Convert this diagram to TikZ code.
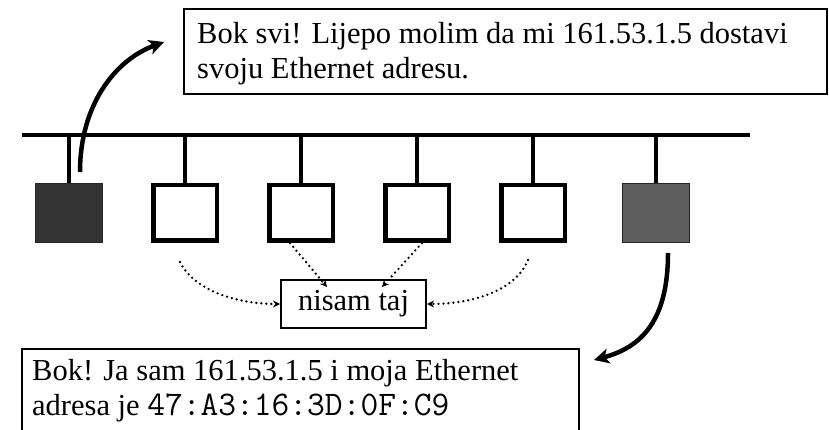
\documentclass[tikz,border=0pt]{standalone}
\usepackage{fontspec}
\setmainfont{Liberation Serif}
\usetikzlibrary{arrows.meta}
\definecolor{hostA}{RGB}{51,51,51}
\definecolor{hostB}{RGB}{94,94,94}
\begin{document}
\begin{tikzpicture}[x=1pt,y=-1pt,
  txt/.style={font=\fontsize{30.5}{35}\selectfont, inner sep=0pt},
  mac/.style={font=\fontsize{34.5}{35}\selectfont\ttfamily},
  frame/.style={draw, line width=2pt, inner sep=0pt, fill=white},
  hostw/.style={draw, line width=4.5pt, fill=white, minimum width=63.5pt, minimum height=55.5pt, inner sep=0pt},
  hostd/.style={draw=black!85, line width=1pt, minimum width=67pt, minimum height=59pt, inner sep=0pt},
  wire/.style={line width=4pt},
  bigarrow/.style={line width=4.5pt, -{Stealth[length=15pt,width=15pt,inset=4pt]}},
  dotarrow/.style={line width=2.6pt, line cap=round, dash pattern=on 0pt off 5pt, -{Stealth[length=7pt,width=7pt]}}
]
\clip (0,0) rectangle (829,430);
\fill[white] (0,0) rectangle (829,430);

% shared Ethernet bus
\coordinate (busL) at (22,135);
\coordinate (busR) at (750,135);
\draw[wire] (busL) -- (busR);

% hosts on the bus
\node[hostd, fill=hostA] (h1) at (69,213) {};
\node[hostw] (h2) at (185,213) {};
\node[hostw] (h3) at (301,213) {};
\node[hostw] (h4) at (417,213) {};
\node[hostw] (h5) at (533,213) {};
\node[hostd, fill=hostB] (h6) at (656,213) {};
\foreach \h in {h1,h2,h3,h4,h5,h6}
  \draw[wire] (\h.north) -- (\h.north |- busL);

% ARP request
\node[frame, minimum width=643pt, minimum height=85pt] (req) at (505.5,51.5) {};
\node[txt, anchor=base west] (req1) at (197,44) {Bok svi! Lijepo molim da mi 161.53.1.5 dostavi};
\node[txt, anchor=base west] (req2) at (197,79) {svoju Ethernet adresu.};

% ARP reply
\node[frame, minimum width=557pt, minimum height=110pt] (rep) at (300.5,404) {};
\node[txt, anchor=base west] (rep1) at (32,380) {Bok! Ja sam 161.53.1.5 i moja Ethernet};
\node[txt, anchor=base west] (rep2) at (32,415) {adresa je {\fontsize{34.5}{35}\selectfont\ttfamily 47:A3:16:3D:0F:C9}};

% the others ignore the request
\node[frame, txt, draw, line width=2pt, minimum width=145pt, minimum height=48pt] (nt) at (353.5,304) {nisam taj};

% broadcast and answer
\coordinate (a1s) at (80,172);
\coordinate (a1e) at (164,42);
\draw[bigarrow] (a1s) .. controls (80,105) and (115,60) .. (a1e);
\coordinate (a2s) at (668,253);
\coordinate (a2e) at (594,360);
\draw[bigarrow] (a2s) .. controls (668,320) and (642,347) .. (a2e);

% dotted replies of the other hosts
\coordinate (d1s) at (180,262);
\coordinate (d2s) at (290,243);
\coordinate (d2e) at (327,287);
\coordinate (d3s) at (422,243);
\coordinate (d3e) at (382,287);
\coordinate (d4s) at (528,260);
\draw[dotarrow] (d1s) .. controls (195,292) and (240,304) .. (nt.west);
\draw[dotarrow] (d2s) -- (d2e);
\draw[dotarrow] (d3s) -- (d3e);
\draw[dotarrow] (d4s) .. controls (515,292) and (470,304) .. (nt.east);
\end{tikzpicture}
\end{document}
